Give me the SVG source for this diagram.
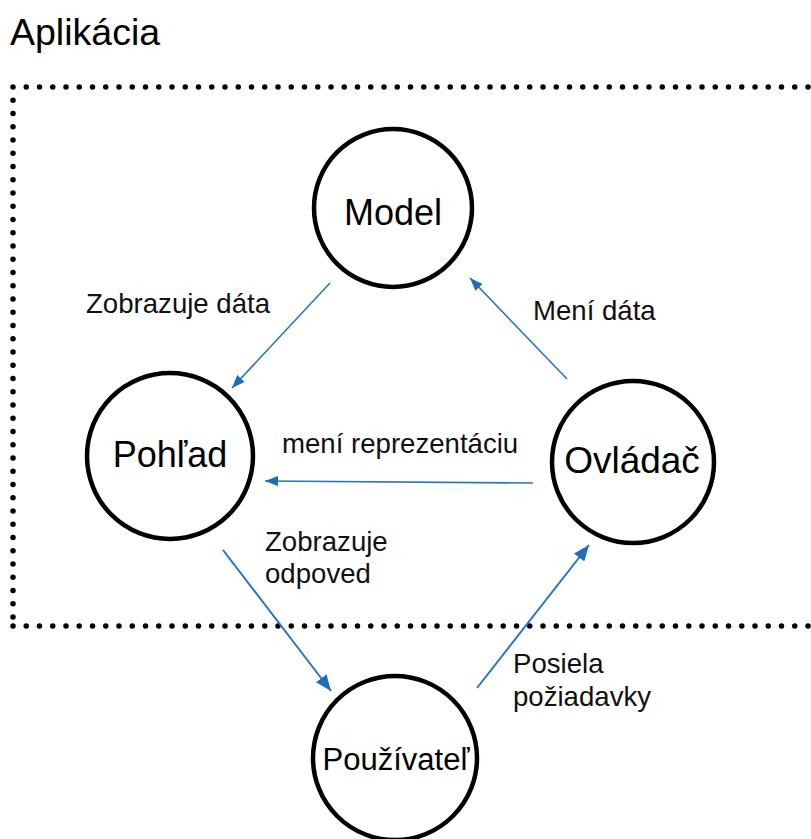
<svg xmlns="http://www.w3.org/2000/svg" width="811" height="839" viewBox="0 0 811 839">
  <style>
    .node circle { fill: #ffffff; stroke: #000000; stroke-width: 4.5; }
    .node text { font-family: "Liberation Sans", Arial, sans-serif; fill: #000000; text-anchor: middle; }
    .label { font-family: "Liberation Sans", Arial, sans-serif; font-size: 27.6px; fill: #111111; }
    .title { font-family: "Liberation Sans", Arial, sans-serif; font-size: 37.5px; fill: #000000; }
    .border { fill: none; stroke: #000000; stroke-width: 5.5; stroke-linecap: round; stroke-dasharray: 0 13.25; }
    .edge { fill: none; stroke: #2a74c0; }
    .thin { stroke-width: 1.6; marker-end: url(#head-small); }
    .thick { stroke-width: 2; marker-end: url(#head-large); }
  </style>
  <defs>
    <marker id="head-small" markerUnits="userSpaceOnUse" markerWidth="14" markerHeight="10" refX="13" refY="5" orient="auto">
      <path d="M0,0 L13,5 L0,10 z" fill="#1f6cb8"/>
    </marker>
    <marker id="head-large" markerUnits="userSpaceOnUse" markerWidth="17" markerHeight="13" refX="16" refY="6.5" orient="auto">
      <path d="M0,0 L16,6.5 L0,13 z" fill="#1f6cb8"/>
    </marker>
  </defs>

  <rect width="811" height="839" fill="#ffffff"/>

  <!-- application boundary -->
  <text class="title" x="10" y="45">Aplikácia</text>
  <path class="border" d="M13,87 H830 M13,87 V626 M13,626 H830"/>

  <!-- connectors -->
  <g id="connectors">
    <line class="edge thin" x1="330" y1="283" x2="232" y2="388"/>
    <line class="edge thin" x1="567" y1="379" x2="470" y2="278"/>
    <line class="edge thin" x1="533" y1="483" x2="265" y2="481"/>
    <line class="edge thick" x1="223" y1="550" x2="331" y2="691"/>
    <line class="edge thick" x1="477" y1="688" x2="589" y2="545"/>
  </g>

  <!-- connector labels -->
  <text class="label" x="86" y="313">Zobrazuje dáta</text>
  <text class="label" x="533" y="320">Mení dáta</text>
  <text class="label" x="282" y="453">mení reprezentáciu</text>
  <text class="label" x="265" y="551">Zobrazuje</text>
  <text class="label" x="265" y="583">odpoved</text>
  <text class="label" x="513" y="673">Posiela</text>
  <text class="label" x="513" y="706">požiadavky</text>

  <!-- nodes -->
  <g id="model" class="node">
    <circle cx="393" cy="208" r="79"/>
    <text x="393" y="225" font-size="36">Model</text>
  </g>
  <g id="pohlad" class="node">
    <circle cx="170" cy="456" r="83"/>
    <text x="170" y="467" font-size="36">Pohľad</text>
  </g>
  <g id="ovladac" class="node">
    <circle cx="633" cy="462" r="81"/>
    <text x="632" y="473" font-size="37">Ovládač</text>
  </g>
  <g id="pouzivatel" class="node">
    <circle cx="395" cy="758" r="82"/>
    <text x="396" y="770" font-size="31">Používateľ</text>
  </g>
</svg>
